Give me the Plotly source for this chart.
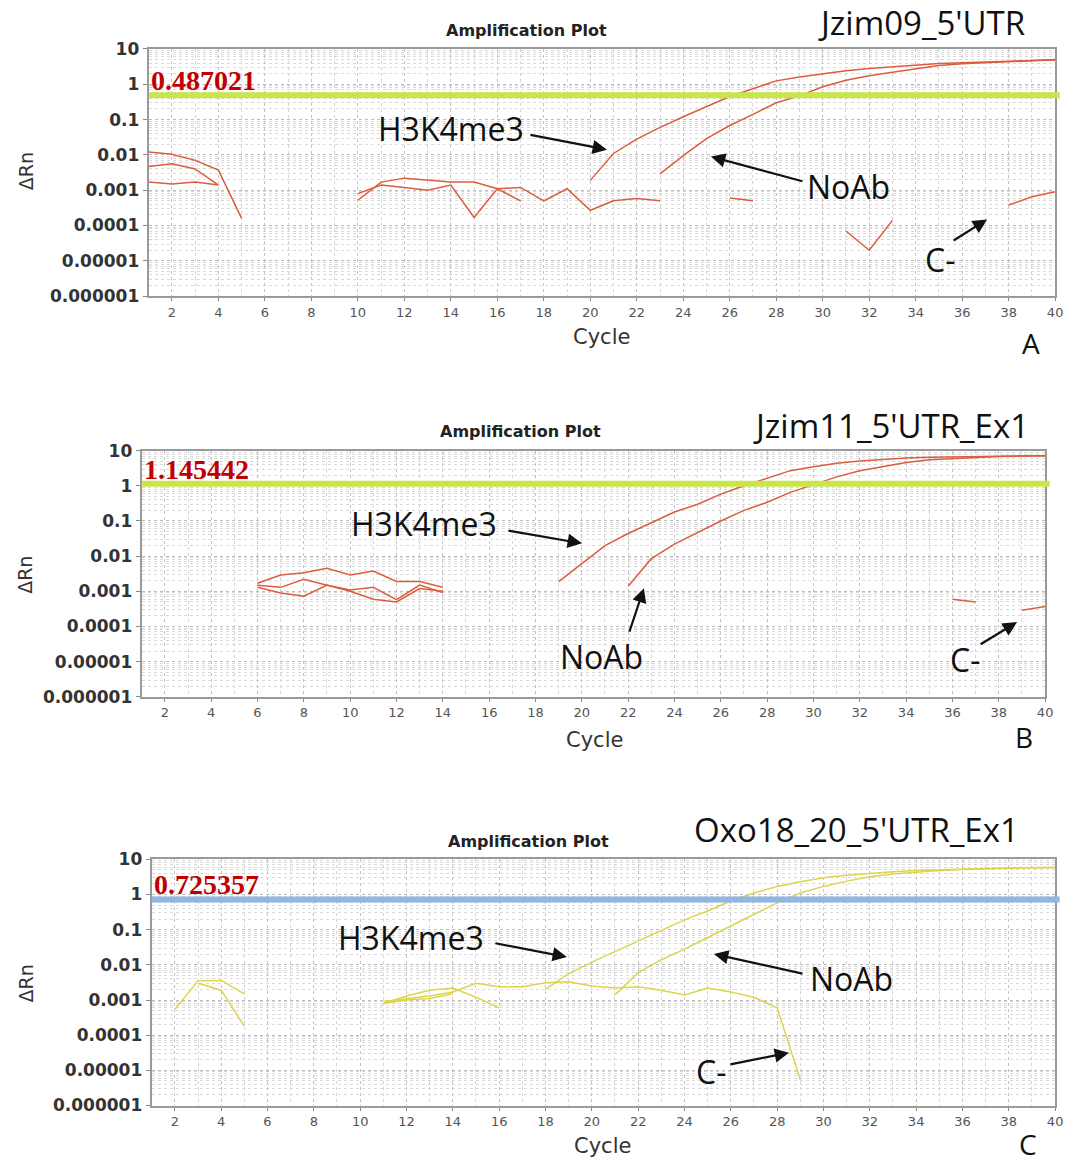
import math
import plotly.graph_objects as go

# ---------------- data (cycle -> delta Rn) ----------------
# Panel A : Jzim09_5'UTR
A_h3_cyc = list(range(20, 41))
A_h3 = [0.0019, 0.011, 0.028, 0.06, 0.12, 0.23, 0.45, 0.75, 1.25, 1.6, 2.0,
        2.4, 2.8, 3.1, 3.5, 3.9, 4.1, 4.3, 4.5, 4.7, 4.9]
A_noab_cyc = list(range(23, 41))
A_noab = [0.0029, 0.0095, 0.029, 0.068, 0.14, 0.3, 0.47, 0.85, 1.3, 1.75,
          2.2, 2.8, 3.4, 3.8, 4.1, 4.4, 4.7, 5.0]
A_w1_cyc = [1, 2, 3, 4, 5]
A_w1 = [0.012, 0.0105, 0.007, 0.0037, 0.00016]
A_w2_cyc = [1, 2, 3, 4]
A_w2 = [0.0047, 0.0056, 0.004, 0.0014]
A_w3_cyc = [1, 2, 3, 4]
A_w3 = [0.0017, 0.0015, 0.0017, 0.0014]
A_w4_cyc = list(range(10, 18))
A_w4 = [0.00052, 0.0017, 0.0022, 0.0019, 0.0017, 0.0017, 0.0011, 0.0005]
A_neg_cyc = list(range(10, 41))
A_neg = [0.0008, 0.0014, 0.0012, 0.001, 0.0014, 0.00017, 0.0011, 0.0012,
         0.0005, 0.0011, 0.00027, 0.0005, 0.00058, 0.0005, None, None,
         0.0006, 0.0005, None, None, None, 0.00007, 0.00002, 0.00014,
         None, None, None, None, 0.00038, 0.00065, 0.0009]
A_thr = 0.487021

# Panel B : Jzim11_5'UTR_Ex1
B_h3_cyc = list(range(19, 41))
B_h3 = [0.0019, 0.0062, 0.02, 0.044, 0.09, 0.18, 0.3, 0.58, 1.0, 1.65, 2.7,
        3.5, 4.4, 5.1, 5.7, 6.2, 6.5, 6.7, 6.9, 7.0, 7.1, 7.2]
B_noab_cyc = list(range(22, 41))
B_noab = [0.0014, 0.0085, 0.022, 0.048, 0.1, 0.2, 0.34, 0.65, 1.1, 1.8, 2.7,
          3.45, 4.6, 5.5, 6.0, 6.4, 6.8, 7.0, 7.2]
B_neg_cyc = [36, 37, 38, 39, 40]
B_neg = [0.0006, 0.0005, None, 0.00029, 0.00037]
B_w1_cyc = list(range(6, 15))
B_w1 = [0.0017, 0.0029, 0.0034, 0.0045, 0.0029, 0.0038, 0.0019, 0.0019, 0.0013]
B_w2_cyc = list(range(6, 15))
B_w2 = [0.0015, 0.0013, 0.0022, 0.0015, 0.0011, 0.0013, 0.00058, 0.0015, 0.00092]
B_w3_cyc = list(range(6, 15))
B_w3 = [0.0013, 0.0009, 0.00073, 0.0015, 0.001, 0.0006, 0.0005, 0.0012, 0.001]
B_thr = 1.145442

# Panel C : Oxo18_20_5'UTR_Ex1
C_h3_cyc = list(range(18, 41))
C_h3 = [0.002, 0.0056, 0.012, 0.024, 0.05, 0.095, 0.19, 0.34, 0.65, 1.1,
        1.7, 2.3, 3.0, 3.5, 4.0, 4.4, 4.8, 5.1, 5.3, 5.5, 5.7, 5.8, 5.9]
C_noab_cyc = list(range(21, 41))
C_noab = [0.0014, 0.006, 0.014, 0.028, 0.06, 0.13, 0.27, 0.58, 1.1, 1.7,
          2.4, 3.2, 3.8, 4.3, 4.8, 5.1, 5.4, 5.6, 5.8, 5.9]
C_neg_cyc = list(range(11, 30))
C_neg = [0.0009, 0.0011, 0.0013, 0.0017, 0.003, 0.0024, 0.0024, 0.0031,
         0.0033, 0.0025, 0.0022, 0.0024, 0.0019, 0.0014, 0.0022, 0.0017,
         0.0012, 0.0006, 0.0000054]
C_w1_cyc = [2, 3, 4, 5]
C_w1 = [0.00054, 0.0035, 0.0036, 0.0015]
C_w2_cyc = [3, 4, 5]
C_w2 = [0.003, 0.0019, 0.00018]
C_w3_cyc = list(range(11, 17))
C_w3 = [0.00078, 0.0013, 0.0019, 0.0022, 0.0012, 0.0006]
C_w4_cyc = [11, 12, 13, 14]
C_w4 = [0.0008, 0.001, 0.0011, 0.0015]
C_thr = 0.725357

y_tickvals = [10, 1, 0.1, 0.01, 0.001, 0.0001, 0.00001, 0.000001]
y_ticktext = ["10", "1", "0.1", "0.01", "0.001", "0.0001", "0.00001", "0.000001"]
x_tickvals = list(range(2, 41, 2))

# ---------------- figure ----------------
W, H = 1067, 1162
def px(x): return ((x - 1.4) / 0.992) / W
def py(y): return 1 - ((y - 7.9) / 0.986) / H

RED = "#dc5c3e"
YEL = "#ddd44c"
GREEN = "#c8e64c"
BLUE = "#8fb6e4"

panels = [
    dict(name="A", xd=(150, 1056), yd=(47, 295),
         series=[(A_h3_cyc, A_h3), (A_noab_cyc, A_noab), (A_w1_cyc, A_w1),
                 (A_w2_cyc, A_w2), (A_w3_cyc, A_w3), (A_w4_cyc, A_w4),
                 (A_neg_cyc, A_neg)],
         color=RED, thr=A_thr, thrcol=GREEN, thrtxt="0.487021",
         title="Jzim09_5'UTR", tpos=(922, 20), aplot=(528, 28), cyc=(603, 336),
         letter=(1032, 342), dr=(27, 170),
         h3=dict(t=(452, 127), tail=(530, 133), head=(608, 148)),
         noab=dict(t=(849, 185), tail=(805, 180), head=(712, 155)),
         cm=dict(t=(941, 258), tail=(953, 240), head=(988, 218))),
    dict(name="B", xd=(143, 1046), yd=(450, 697),
         series=[(B_h3_cyc, B_h3), (B_noab_cyc, B_noab), (B_neg_cyc, B_neg),
                 (B_w1_cyc, B_w1), (B_w2_cyc, B_w2), (B_w3_cyc, B_w3)],
         color=RED, thr=B_thr, thrcol=GREEN, thrtxt="1.145442",
         title="Jzim11_5'UTR_Ex1", tpos=(892, 425), aplot=(522, 431), cyc=(596, 740),
         letter=(1025, 737), dr=(27, 575),
         h3=dict(t=(425, 523), tail=(508, 530), head=(583, 543)),
         noab=dict(t=(603, 657), tail=(630, 633), head=(645, 588)),
         cm=dict(t=(966, 660), tail=(980, 645), head=(1018, 622))),
    dict(name="C", xd=(153, 1056), yd=(860, 1107),
         series=[(C_h3_cyc, C_h3), (C_noab_cyc, C_noab), (C_neg_cyc, C_neg),
                 (C_w1_cyc, C_w1), (C_w2_cyc, C_w2), (C_w3_cyc, C_w3),
                 (C_w4_cyc, C_w4)],
         color=YEL, thr=C_thr, thrcol=BLUE, thrtxt="0.725357",
         title="Oxo18_20_5'UTR_Ex1", tpos=(857, 830), aplot=(530, 842), cyc=(604, 1148),
         letter=(1029, 1146), dr=(27, 985),
         h3=dict(t=(412, 938), tail=(495, 944), head=(568, 958)),
         noab=dict(t=(852, 980), tail=(805, 975), head=(715, 955)),
         cm=dict(t=(712, 1073), tail=(730, 1066), head=(790, 1054))),
]

fig = go.Figure()
annotations = []
shapes = []
layout = dict(width=W, height=H, margin=dict(l=0, r=0, t=0, b=0),
              paper_bgcolor="white", plot_bgcolor="white", showlegend=False)

LABEL_FONT = dict(family="Open Sans, Lato, sans-serif", size=32, color="#111")
TITLE_FONT = dict(family="Open Sans, Lato, sans-serif", size=33, color="#111")
LETTER_FONT = dict(family="Open Sans, Lato, sans-serif", size=28, color="#111")


def text_at(x, y, text, font, angle=0):
    return dict(xref="paper", yref="paper", x=px(x), y=py(y), text=text,
                showarrow=False, xanchor="center", yanchor="middle",
                textangle=angle, font=font)


for i, p in enumerate(panels):
    n = "" if i == 0 else str(i + 1)
    xa, ya = "x" + n, "y" + n
    for cx, cy in p["series"]:
        fig.add_trace(go.Scatter(x=cx, y=cy, mode="lines", xaxis=xa, yaxis=ya,
                                 line=dict(color=p["color"], width=1.5),
                                 connectgaps=False, hoverinfo="skip"))
    layout["xaxis" + n] = dict(
        domain=[px(p["xd"][0]), px(p["xd"][1])], anchor=ya, range=[1, 40],
        tickvals=x_tickvals, ticks="outside", ticklen=3, tickcolor="#888",
        tickfont=dict(family="DejaVu Sans", size=13, color="#555"),
        showgrid=True, gridcolor="#c4c4c4", griddash="dot", gridwidth=1,
        minor=dict(dtick=1, showgrid=True, gridcolor="#d4d4d4", griddash="dot"),
        showline=True, linecolor="#9a9a9a", linewidth=2, mirror=True, zeroline=False)
    layout["yaxis" + n] = dict(
        domain=[py(p["yd"][1]), py(p["yd"][0])], anchor=xa, type="log",
        range=[-6, 1], tickvals=y_tickvals, ticktext=y_ticktext,
        ticks="outside", ticklen=4, tickcolor="#888",
        tickfont=dict(family="DejaVu Sans", size=17, color="#333", weight="bold"),
        showgrid=True, gridcolor="#bdbdbd", griddash="dot", gridwidth=1,
        minor=dict(dtick="D1", showgrid=True, gridcolor="#dadada", griddash="dot"),
        showline=True, linecolor="#9a9a9a", linewidth=2, mirror=True, zeroline=False)
    # threshold line
    shapes.append(dict(type="line", xref=xa + " domain", yref=ya, x0=0, x1=1.005,
                       y0=p["thr"], y1=p["thr"], line=dict(color=p["thrcol"], width=6),
                       layer="above"))
    annotations.append(dict(xref=xa + " domain", yref=ya, x=0.0, y=math.log10(p["thr"]),
                            text=p["thrtxt"], showarrow=False, xanchor="left", yanchor="bottom",
                            yshift=-3,
                            font=dict(family="Liberation Serif", size=28, color="#c00000",
                                      weight="bold")))
    annotations.append(text_at(*p["aplot"], "Amplification Plot",
                               dict(family="DejaVu Sans", size=16, color="#222",
                                    weight="bold")))
    annotations.append(text_at(*p["tpos"], p["title"], TITLE_FONT))
    annotations.append(text_at(*p["cyc"], "Cycle",
                               dict(family="DejaVu Sans", size=21, color="#333")))
    annotations.append(text_at(*p["letter"], p["name"], LETTER_FONT))
    annotations.append(text_at(*p["dr"], "ΔRn",
                               dict(family="DejaVu Sans", size=19, color="#333"), -90))
    for key, txt in (("h3", "H3K4me3"), ("noab", "NoAb"), ("cm", "C-")):
        a = p[key]
        annotations.append(text_at(*a["t"], txt, LABEL_FONT))
        annotations.append(dict(xref="paper", yref="paper", x=px(a["head"][0]), y=py(a["head"][1]),
                                text="", showarrow=True, axref="pixel", ayref="pixel",
                                ax=a["tail"][0] - a["head"][0], ay=a["tail"][1] - a["head"][1],
                                arrowhead=2, arrowsize=1.3, arrowwidth=2.2, arrowcolor="#111",
                                standoff=0))

layout["annotations"] = annotations
layout["shapes"] = shapes
fig.update_layout(**layout)
fig.write_html("out.html")
